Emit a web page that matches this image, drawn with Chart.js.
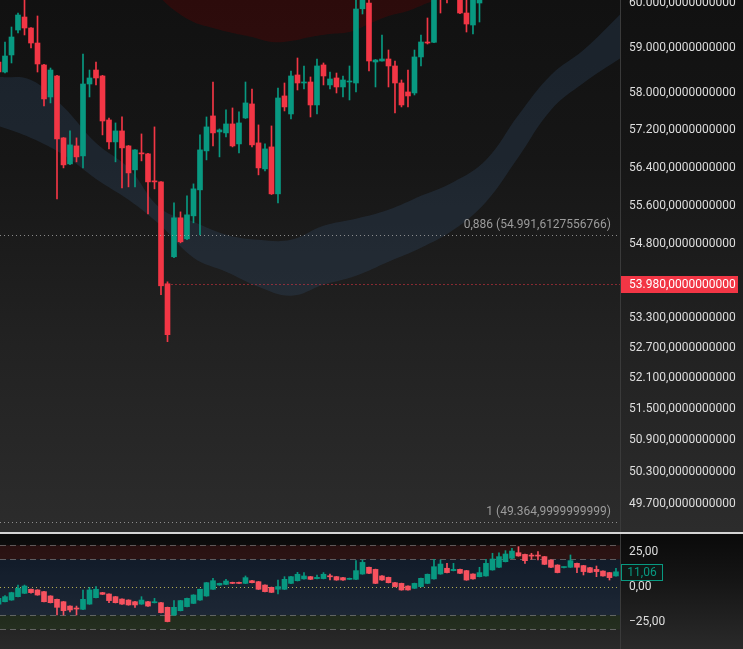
<!DOCTYPE html>
<html>
<head>
<meta charset="utf-8">
<script src="https://cdn.jsdelivr.net/npm/chart.js@4.4.1/dist/chart.umd.min.js"></script>
<style>
  html, body { margin: 0; padding: 0; background: #111; overflow: hidden; }
  #wrap { position: relative; width: 743px; height: 649px; }
  #pricePane { position: absolute; left: 0; top: 0; width: 743px; height: 532px;
    background: linear-gradient(to bottom, #111111 0%, #161616 30%, #222222 65%, #2c2c2c 100%); }
  #sep { position: absolute; left: 0; top: 532px; width: 743px; height: 2px; background: #d4d4d4; }
  #oscPane { position: absolute; left: 0; top: 534px; width: 743px; height: 115px;
    background: linear-gradient(to bottom, #0a0a0a 0%, #151515 40%, #2a2a2a 100%); }
  canvas { display: block; }
</style>
</head>
<body>
<div id="wrap">
  <div id="pricePane"><canvas id="price-chart" width="743" height="532"></canvas></div>
  <div id="sep"></div>
  <div id="oscPane"><canvas id="osc-chart" width="743" height="115"></canvas></div>
</div>
<script>
// ================== data ======================
const priceOpen  = [58684,58463,58839,59394,59685,59439,59104,58618,57917,58376,57032,56477,56860,56647,58200,58507,58376,57418,56946,57182,56860,56350,56711,56690,56117,56096,53987,54538,55343,54908,55384,55928,56754,57505,57160,57139,57332,56903,57461,57765,56925,56371,56839,55844,57939,57548,58398,58222,58244,57743,58618,58179,58332,58135,58244,58222,59870,59999,58684,58706,58750,58596,58222,58026,58004,58795,59127,59120,60600,60700,60400,60550,59775,59506,60000];
const priceHigh  = [58772,59127,59461,59775,60100,59450,59708,58630,58551,58390,57040,57182,57032,58861,58507,58684,58390,57461,57354,57483,56870,56780,57117,56700,57268,56100,54027,55655,55467,55802,56054,57096,57483,58244,57225,57635,57678,57592,58244,58091,57311,56903,57289,58113,58222,58485,58772,58596,58354,58750,58662,58463,58441,58376,58596,60100,60500,60150,58740,59283,58949,58706,58288,58507,58949,59283,59663,60450,60700,60800,60850,60700,60100,60450,60500];
const priceLow   = [58398,58441,58662,59327,59283,58993,58463,57722,57787,55739,56392,56460,56520,56392,57917,58179,57096,56796,56520,55970,55991,55991,56541,55426,55949,53764,52824,54520,54825,54890,55239,54990,56562,56860,56626,57053,56839,56711,57450,56839,56244,56329,55830,55655,57613,57440,58069,58091,57483,57548,58179,58091,58004,57917,57852,58026,59753,58485,58135,58700,58135,57570,57700,57700,57960,58596,59082,59110,59775,60000,60250,59760,59349,59305,59573];
const priceClose = [58463,58816,59238,59730,59439,59104,58640,57874,58507,57010,56456,56882,56626,58200,58332,58332,57396,56946,57182,56818,56286,56775,56690,56096,56096,53946,52963,55343,54846,55405,55949,56775,57268,57139,57203,57332,56860,57354,57787,56882,56392,56796,55844,57895,57700,58376,58222,58244,57743,58596,58376,58310,58135,58288,58266,59865,60350,58706,58728,58750,58596,58222,57743,57939,58795,59127,59104,60300,60250,60350,60750,59775,59528,60300,60400];

const oscOpen  = [-12.0,-10.3,-9.1,-6.7,-4.3,-1.4,-1.9,-3.1,-6.2,-8.6,-10.3,-13.4,-14.8,-15.7,-12.0,-7.4,-3.8,-4.8,-6.7,-8.4,-9.1,-10.3,-12.0,-10.3,-11.0,-11.0,-14.3,-19.8,-16.7,-13.8,-11.5,-9.1,-6.2,-1.4,1.6,2.1,3.5,3.5,2.8,4.7,4.0,1.6,0.0,-1.4,-1.4,2.8,4.7,6.0,7.6,6.2,6.2,7.7,7.6,6.9,5.7,5.7,9.5,14.3,12.8,8.1,7.1,3.3,2.8,0.9,-0.7,0.5,2.8,6.0,9.5,13.6,11.9,12.8,11.9,9.5,7.6,8.1,12.4,14.3,18.3,20.7,24.7,23.5,22.5,22.5,21.9,19.5,15.9,14.1,14.3,17.1,15.5,14.0,12.8,11.6,10.5,8.1];
const oscHigh  = [-7.9,-6.0,-3.5,1.6,1.6,-1.2,-1.7,-2.9,-6.0,-8.4,-10.1,-13.2,-13.4,-1.9,0.0,0.5,-3.6,-4.6,-6.5,-8.2,-8.9,-10.1,-6.7,-10.1,-7.9,-10.8,-14.1,-9.5,-9.3,-7.7,-5.3,-1.2,3.5,6.4,3.0,5.7,3.7,3.7,8.1,4.9,4.2,1.8,0.2,5.2,7.6,7.8,10.7,10.5,7.8,8.8,10.5,9.5,7.8,7.1,6.6,19.0,19.5,14.5,13.0,8.3,7.3,3.5,3.0,1.1,3.0,6.6,9.5,20.0,19.5,17.1,17.1,13.0,12.1,9.7,14.3,20.0,24.3,24.7,26.2,27.8,29.0,23.7,24.3,25.5,22.1,19.7,16.1,14.6,23.1,17.3,15.7,14.2,15.2,11.8,10.7,13.6];
const oscLow   = [-12.0,-10.5,-9.3,-6.9,-4.5,-4.2,-5.7,-10.5,-11.2,-19.8,-19.8,-17.5,-19.8,-16.0,-12.2,-7.6,-5.2,-11.0,-11.2,-12.2,-12.8,-14.3,-12.2,-13.6,-11.2,-18.3,-24.7,-20.0,-16.9,-14.0,-11.7,-9.3,-6.4,-1.6,1.4,1.9,2.6,2.6,2.6,3.1,-1.6,-3.3,-3.8,-4.8,-1.6,2.6,4.5,5.8,5.5,6.0,6.0,5.2,5.0,5.0,5.5,5.5,9.3,9.8,2.6,5.0,3.1,0.3,-2.1,-2.1,-0.9,0.3,2.6,5.8,9.3,10.3,11.7,9.8,5.0,5.8,7.4,7.9,12.2,14.1,18.1,20.5,22.2,17.1,20.0,19.5,16.2,14.1,10.3,13.9,14.1,10.5,8.8,10.5,7.6,7.9,5.2,7.9];
const oscClose = [-7.9,-6.7,-3.8,-0.7,0.9,-3.8,-5.5,-10.3,-11.0,-14.3,-16.7,-16.2,-15.2,-8.6,-1.9,-1.4,-5.0,-9.5,-11.0,-12.0,-12.6,-12.6,-9.1,-13.4,-10.3,-18.1,-24.5,-14.3,-9.5,-7.9,-5.5,-1.4,3.3,4.7,2.8,4.5,2.8,2.8,6.9,3.3,-1.4,-3.1,-3.6,0.5,5.7,7.6,9.3,8.1,5.7,7.1,9.3,7.5,5.2,5.2,6.4,11.9,17.8,10.0,2.8,5.2,3.3,0.5,-1.9,-1.9,2.8,6.4,9.3,14.7,16.6,10.5,12.8,10.0,5.2,6.0,10.5,17.1,20.2,21.9,23.8,25.9,22.4,19.0,22.3,22.3,16.4,14.3,10.5,14.4,19.0,14.3,11.2,10.7,11.2,8.1,6.9,11.06];

// blue channel, sampled every few bars
const bandIdx   = [0,5,10,15,20,25,30,35,40,45,50,55,60,65,70,75,80,85,90,96];
const bandUpper = [58354,58288,57700,56925,56392,55530,55259,54990,54887,54887,55176,55322,55509,55802,56096,56562,57527,58398,58949,59797];
const bandLower = [57289,57032,56669,56159,55718,55176,54517,54231,53926,53744,53966,54150,54435,54722,55093,55676,56626,57635,58222,58795];

// red cloud at the top
const redIdx = [25,27,30,33,36,39,42,45,48,51,54,57,60,63,66,68];
const redLow = [60100,59842,59573,59439,59327,59238,59127,59149,59238,59305,59349,59528,59708,59820,59999,60100];

const priceTicks = [60000,59000,58000,57200,56400,55600,54800,53300,52700,52100,51500,50900,50300,49700];
const lastPrice = 53980;
const lastPriceFrom = 26;
const fibLevels = ["0,886", "1"];
const fibPrices = [54991.6127556766, 49364.9999999999];

const oscTicks = [25, 0, -25];
const oscLevels = [30, 20, -20, -30];
const oscLast = 11.06;

// ================== helpers ======================
const UP = "#089981";
const DOWN = "#f23645";
const OSC_DOWN = "#f7525f";

function fmtNum(v, dec) {
  const s = Math.abs(v).toFixed(dec).split(".");
  const int = s[0].replace(/\B(?=(\d{3})+(?!\d))/g, ".");
  return (v < 0 ? "\u2212" : "") + int + (dec ? "," + s[1] : "");
}

function candleSets(o, h, l, c, up, down, bodyW) {
  const colors = o.map((v, i) => (c[i] >= v ? up : down));
  return [
    {
      type: "bar",
      data: o.map((v, i) => ({ x: i, y: [l[i], h[i]] })),
      backgroundColor: colors,
      barThickness: 1,
      grouped: false,
      order: 2,
    },
    {
      type: "bar",
      data: o.map((v, i) => ({ x: i, y: [v, c[i]] })),
      backgroundColor: colors,
      barThickness: bodyW,
      minBarLength: 1,
      grouped: false,
      order: 1,
    },
  ];
}

Chart.defaults.font.family = "Roboto, 'Liberation Sans', sans-serif";
Chart.defaults.font.size = 12;
Chart.defaults.animation = false;

const X_MIN = 0.23;
const X_MAX = 95.62;
const AXIS_W = 123;

const xScale = { type: "linear", min: X_MIN, max: X_MAX, offset: false, display: false };

// the pane must fill the whole canvas height, so drop the label padding
function fitAxis(scale) {
  scale.width = AXIS_W;
  scale.paddingTop = 0;
  scale.paddingBottom = 0;
}

// ================== price pane ======================
const priceOverlay = {
  id: "priceOverlay",
  afterDatasetsDraw(chart) {
    const { ctx, chartArea, scales } = chart;
    const y = scales.y;
    ctx.save();
    ctx.lineWidth = 1;
    ctx.font = "12px Roboto, sans-serif";
    fibPrices.forEach((p, i) => {
      const py = Math.round(y.getPixelForValue(p)) + 0.5;
      ctx.strokeStyle = "rgba(175,175,175,0.75)";
      ctx.setLineDash([1, 3]);
      ctx.beginPath();
      ctx.moveTo(chartArea.left, py);
      ctx.lineTo(chartArea.right, py);
      ctx.stroke();
      ctx.fillStyle = "#9c9c9c";
      ctx.textAlign = "right";
      ctx.textBaseline = "bottom";
      ctx.fillText(fibLevels[i] + " (" + fmtNum(p, 10) + ")", chartArea.right - 9, py - 5);
    });
    const ly = Math.round(y.getPixelForValue(lastPrice)) + 0.5;
    ctx.strokeStyle = DOWN;
    ctx.setLineDash([1, 3]);
    ctx.beginPath();
    ctx.moveTo(scales.x.getPixelForValue(lastPriceFrom), ly);
    ctx.lineTo(chartArea.right, ly);
    ctx.stroke();
    ctx.restore();
  },
  afterDraw(chart) {
    const { ctx, chartArea, scales } = chart;
    const ly = scales.y.getPixelForValue(lastPrice);
    ctx.save();
    ctx.fillStyle = DOWN;
    ctx.fillRect(chartArea.right + 1, Math.round(ly) - 8, 117, 17);
    ctx.fillStyle = "#ffffff";
    ctx.font = "12px Roboto, sans-serif";
    ctx.textBaseline = "middle";
    ctx.textAlign = "left";
    ctx.fillText(fmtNum(lastPrice, 10), chartArea.right + 9, Math.round(ly) + 0.5);
    ctx.strokeStyle = "#3a3a3a";
    ctx.beginPath();
    ctx.moveTo(chartArea.right + 0.5, 0);
    ctx.lineTo(chartArea.right + 0.5, chart.height);
    ctx.stroke();
    ctx.restore();
  },
};

const priceDatasets = [
  {
    type: "line",
    data: bandIdx.map((x, i) => ({ x: x, y: bandUpper[i] })),
    borderColor: "transparent",
    borderWidth: 0,
    pointRadius: 0,
    tension: 0.4,
    fill: false,
    order: 5,
  },
  {
    type: "line",
    data: bandIdx.map((x, i) => ({ x: x, y: bandLower[i] })),
    borderColor: "transparent",
    borderWidth: 0,
    pointRadius: 0,
    tension: 0.4,
    fill: "-1",
    backgroundColor: "rgba(50,80,110,0.28)",
    order: 4,
  },
  {
    type: "line",
    data: redIdx.map((x, i) => ({ x: x, y: redLow[i] })),
    borderColor: "transparent",
    borderWidth: 0,
    pointRadius: 0,
    tension: 0.4,
    fill: "end",
    backgroundColor: "rgba(110,0,0,0.3)",
    order: 3,
  },
  ...candleSets(priceOpen, priceHigh, priceLow, priceClose, UP, DOWN, 5),
];

let priceChart = new Chart(document.getElementById("price-chart"), {
  type: "bar",
  data: { datasets: priceDatasets },
  options: {
    responsive: false,
    layout: { padding: 0 },
    scales: {
      x: xScale,
      y: {
        type: "logarithmic",
        position: "right",
        min: 49175,
        max: 60068,
        beginAtZero: false,
        grid: { display: false, drawTicks: false },
        border: { display: false },
        afterBuildTicks: (scale) => {
          scale.ticks = priceTicks.map((v) => ({ value: v }));
        },
        afterFit: fitAxis,
        ticks: {
          autoSkip: false,
          padding: 9,
          color: "#dedede",
          callback: (v) => fmtNum(v, 10),
        },
      },
    },
    plugins: { legend: { display: false }, tooltip: { enabled: false } },
  },
  plugins: [priceOverlay],
});

// ================== oscillator pane ======================
const oscOverlay = {
  id: "oscOverlay",
  beforeDatasetsDraw(chart) {
    const { ctx, chartArea, scales } = chart;
    const y = scales.y;
    const zones = [
      [oscLevels[0], oscLevels[1], "rgba(103,29,29,0.32)"],
      [oscLevels[1], oscLevels[2], "rgba(25,65,120,0.25)"],
      [oscLevels[2], oscLevels[3], "rgba(40,80,20,0.25)"],
    ];
    ctx.save();
    zones.forEach((z) => {
      const t = y.getPixelForValue(z[0]);
      const b = y.getPixelForValue(z[1]);
      ctx.fillStyle = z[2];
      ctx.fillRect(chartArea.left, t, chartArea.right - chartArea.left, b - t);
    });
    ctx.lineWidth = 1;
    ctx.strokeStyle = "rgba(150,150,150,0.55)";
    ctx.setLineDash([6, 4]);
    oscLevels.forEach((lv) => {
      const py = Math.round(y.getPixelForValue(lv)) + 0.5;
      ctx.beginPath();
      ctx.moveTo(chartArea.left, py);
      ctx.lineTo(chartArea.right, py);
      ctx.stroke();
    });
    const zy = Math.round(y.getPixelForValue(0)) + 0.5;
    ctx.strokeStyle = "rgba(210,200,90,0.85)";
    ctx.setLineDash([1, 3]);
    ctx.beginPath();
    ctx.moveTo(chartArea.left, zy);
    ctx.lineTo(chartArea.right, zy);
    ctx.stroke();
    ctx.restore();
  },
  afterDraw(chart) {
    const { ctx, chartArea, scales } = chart;
    const py = Math.round(scales.y.getPixelForValue(oscLast));
    ctx.save();
    ctx.fillStyle = "#101816";
    ctx.fillRect(chartArea.right + 1, py - 8, 42, 17);
    ctx.strokeStyle = UP;
    ctx.lineWidth = 1;
    ctx.strokeRect(chartArea.right + 1.5, py - 7.5, 41, 16);
    ctx.fillStyle = UP;
    ctx.font = "12px Roboto, sans-serif";
    ctx.textAlign = "center";
    ctx.textBaseline = "middle";
    ctx.fillText(fmtNum(oscLast, 2), chartArea.right + 22, py + 0.5);
    ctx.strokeStyle = "#3a3a3a";
    ctx.beginPath();
    ctx.moveTo(chartArea.right + 0.5, 0);
    ctx.lineTo(chartArea.right + 0.5, chart.height);
    ctx.stroke();
    ctx.restore();
  },
};

let oscChart = new Chart(document.getElementById("osc-chart"), {
  type: "bar",
  data: { datasets: candleSets(oscOpen, oscHigh, oscLow, oscClose, UP, OSC_DOWN, 5) },
  options: {
    responsive: false,
    layout: { padding: 0 },
    scales: {
      x: xScale,
      y: {
        type: "linear",
        position: "right",
        min: -44.07,
        max: 38.07,
        grid: { display: false, drawTicks: false },
        border: { display: false },
        afterBuildTicks: (scale) => {
          scale.ticks = oscTicks.map((v) => ({ value: v }));
        },
        afterFit: fitAxis,
        ticks: {
          autoSkip: false,
          padding: 9,
          color: "#dedede",
          callback: (v) => fmtNum(v, 2),
        },
      },
    },
    plugins: { legend: { display: false }, tooltip: { enabled: false } },
  },
  plugins: [oscOverlay],
});
</script>
</body>
</html>
